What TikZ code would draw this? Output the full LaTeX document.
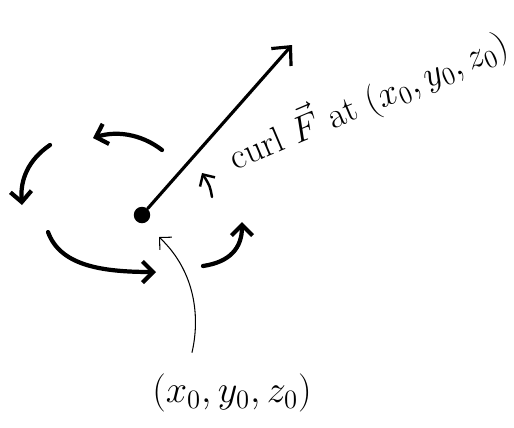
\documentclass[tikz,border=0pt]{standalone}
\usetikzlibrary{arrows.meta}
\begin{document}
\begin{tikzpicture}[x=0.02cm, y=-0.02cm, line cap=round, line join=round,
    dot/.style={circle, fill, inner sep=0pt, minimum size=3.3mm},
    vec/.style={line width=1.8pt, -{Straight Barb[length=8pt, width=15pt]}},
    swirl/.style={line width=2.4pt, -{Straight Barb[length=6pt, width=12pt]}},
    pointer/.style={line width=0.6pt, -{Straight Barb[length=5pt, width=10pt]}}]
    \useasboundingbox (0,0) rectangle (514,427);
    % point and curl vector
    \node[dot] (pt) at (142,215) {};
    \coordinate (tip) at (292,45);
    \draw[vec] (pt) -- (tip);
    \node[rotate=23, font=\huge, inner sep=1pt] (curl) at (368,100) {curl $\vec{F}$ at $(x_0,y_0,z_0)$};
    \draw[line width=1.4pt, -{Straight Barb[length=5pt, width=10pt]}] (212,197) .. controls (210,186) .. (202,173);
    % circulation around the point
    \draw[swirl] (162,150) .. controls (140,133) and (115,131) .. (93,138);
    \draw[swirl] (50,145) .. controls (28,160) and (20,180) .. (22,205);
    \draw[swirl] (48,232) .. controls (60,265) and (100,272) .. (156,272);
    \draw[swirl] (203,266) .. controls (230,262) and (242,248) .. (242,222);
    % label of the point
    \node[font=\huge, scale=1.05] (pos) at (232,393) {$(x_0,y_0,z_0)$};
    \draw[pointer] ([xshift=-0.8cm, yshift=0.3cm]pos.north) .. controls (200,318) and (196,272) .. ([shift={(17,22)}]pt.center);
\end{tikzpicture}
\end{document}
